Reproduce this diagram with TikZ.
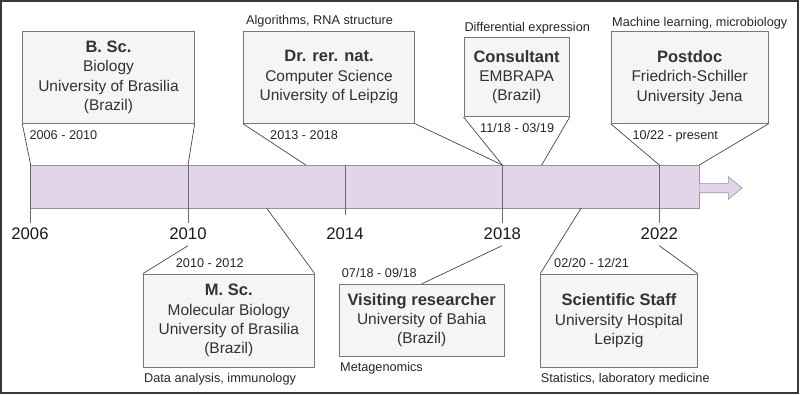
\documentclass[tikz,border=0pt]{standalone}
\usepackage{fontspec}
\setmainfont{Liberation Sans}
\definecolor{barfill}{HTML}{E1D5E7}
\definecolor{bardraw}{HTML}{9F8BAA}
\definecolor{boxfill}{HTML}{F5F5F5}
\definecolor{boxdraw}{HTML}{777777}
\definecolor{txt}{HTML}{333333}
\definecolor{tickc}{HTML}{6F6577}
\newcommand\boxtitle[1]{{\fontsize{16.5}{19.4}\selectfont\bfseries #1}}
\tikzset{
  cbox/.style={draw=boxdraw, fill=boxfill, line width=0.8pt, inner sep=0pt,
    align=center, text=txt, font=\fontsize{15.5}{19.4}\selectfont},
  lbl/.style={anchor=base west, inner sep=0pt, text=black!85,
    font=\fontsize{12.7}{15}\selectfont},
  yr/.style={anchor=base, inner sep=0pt, text=black!90,
    font=\fontsize{16.7}{20}\selectfont},
  callout/.style={draw=black!72, line width=0.7pt},
  tickline/.style={draw=tickc, line width=0.8pt},
  barstyle/.style={draw=bardraw, fill=barfill, line width=0.6pt},
}
\begin{document}
\begin{tikzpicture}[x=1pt,y=-1pt]
\useasboundingbox (0,0) rectangle (800,394);
\draw[line width=2pt, draw=black!78] (1,1) rectangle (798,392.8);

% bar and arrow
\node[barstyle, minimum width=668.6pt, minimum height=43.3pt, inner sep=0pt] (bar) at (365,186.65) {};
\draw[barstyle] (699.3,183.3) -- (728.3,183.3) -- (728.3,176.7) -- (742,188)
  -- (728.3,199.3) -- (728.3,192.7) -- (699.3,192.7);

% coordinates on the bar
\coordinate (t2006) at (30.7,165);
\coordinate (t2010) at (188,165);
\coordinate (t2013) at (305.8,165);
\coordinate (t2014) at (345,165);
\coordinate (t2018) at (502.3,165);
\coordinate (t2019) at (541.7,165);
\coordinate (t2022) at (659.3,165);
\coordinate (tend) at (699.3,165);
\coordinate (b2012) at (266.7,208.3);
\coordinate (b2020) at (581,208.3);
\coordinate (e2006) at (30.7,223.3);
\coordinate (e2010) at (188,223.3);
\coordinate (e2014) at (345,215);
\coordinate (e2018) at (502.3,223.3);
\coordinate (e2022) at (659.3,223.3);
\coordinate (u2010) at (188,245.7);
\coordinate (u2018) at (502,245.7);
\coordinate (u2022) at (659.3,245.7);

% ticks
\draw[tickline] (t2006) -- (e2006);
\draw[tickline] (t2010) -- (e2010);
\draw[tickline] (t2014) -- (e2014);
\draw[tickline] (t2018) -- (e2018);
\draw[tickline] (t2022) -- (e2022);

% years
\node[yr] (y2006) at (30,239) {2006};
\node[yr] (y2010) at (188,239) {2010};
\node[yr] (y2014) at (345,239) {2014};
\node[yr] (y2018) at (502.3,239) {2018};
\node[yr] (y2022) at (659.3,239) {2022};

% top boxes
\node[cbox, minimum width=171.6pt, minimum height=92.3pt] (bsc) at (108.5,77.15)
  {\boxtitle{B. Sc.}\\Biology\\University of Brasilia\\(Brazil)};
\node[cbox, minimum width=171.4pt, minimum height=92.3pt] (phd) at (329,77.15)
  {\boxtitle{Dr. rer. nat.}\\Computer Science\\University of Leipzig};
\node[cbox, minimum width=105.3pt, minimum height=79pt] (cons) at (516.65,77.2)
  {\boxtitle{Consultant}\\EMBRAPA\\(Brazil)};
\node[cbox, minimum width=157.3pt, minimum height=91.6pt] (post) at (689.65,77.5)
  {\boxtitle{Postdoc}\\Friedrich-Schiller\\University Jena};

% bottom boxes
\node[cbox, minimum width=171pt, minimum height=93.3pt] (msc) at (228.8,320.65)
  {\boxtitle{M. Sc.}\\Molecular Biology\\University of Brasilia\\(Brazil)};
\node[cbox, minimum width=164.7pt, minimum height=71.7pt] (visit) at (421.65,320.15)
  {\boxtitle{Visiting researcher}\\University of Bahia\\(Brazil)};
\node[cbox, minimum width=156.6pt, minimum height=93.3pt] (staff) at (619,320.65)
  {\boxtitle{Scientific Staff}\\University Hospital\\Leipzig};

% callouts
\draw[callout] (bsc.south west) -- (t2006);
\draw[callout] (bsc.south east) -- (t2010);
\draw[callout] (phd.south west) -- (t2013);
\draw[callout] (phd.south east) -- (t2018);
\draw[callout] (cons.south west) -- (t2018);
\draw[callout] (cons.south east) -- (t2019);
\draw[callout] (post.south west) -- (t2022);
\draw[callout] (post.south east) -- (tend);
\draw[callout] (msc.north west) -- (u2010);
\draw[callout] (msc.north east) -- (b2012);
\draw[callout] (visit.north) -- (u2018);
\draw[callout] (staff.north west) -- (b2020);
\draw[callout] (staff.north east) -- (u2022);

% labels
\node[lbl] (l1) at (246,24.6) {Algorithms, RNA structure};
\node[lbl] (l2) at (29.3,139.6) {2006 - 2010};
\node[lbl] (l3) at (270,139.6) {2013 - 2018};
\node[lbl] (l4) at (464.3,31.3) {Differential expression};
\node[lbl] (l5) at (480,132.3) {11/18 - 03/19};
\node[lbl] (l6) at (612,26.3) {Machine learning, microbiology};
\node[lbl] (l7) at (632.3,139.6) {10/22 - present};
\node[lbl] (l8) at (175.7,267.3) {2010 - 2012};
\node[lbl] (l9) at (144,382.3) {Data analysis, immunology};
\node[lbl] (l10) at (341.7,277.9) {07/18 - 09/18};
\node[lbl] (l11) at (340,371.3) {Metagenomics};
\node[lbl] (l12) at (554,267.3) {02/20 - 12/21};
\node[lbl] (l13) at (540.7,382.3) {Statistics, laboratory medicine};
\end{tikzpicture}
\end{document}
